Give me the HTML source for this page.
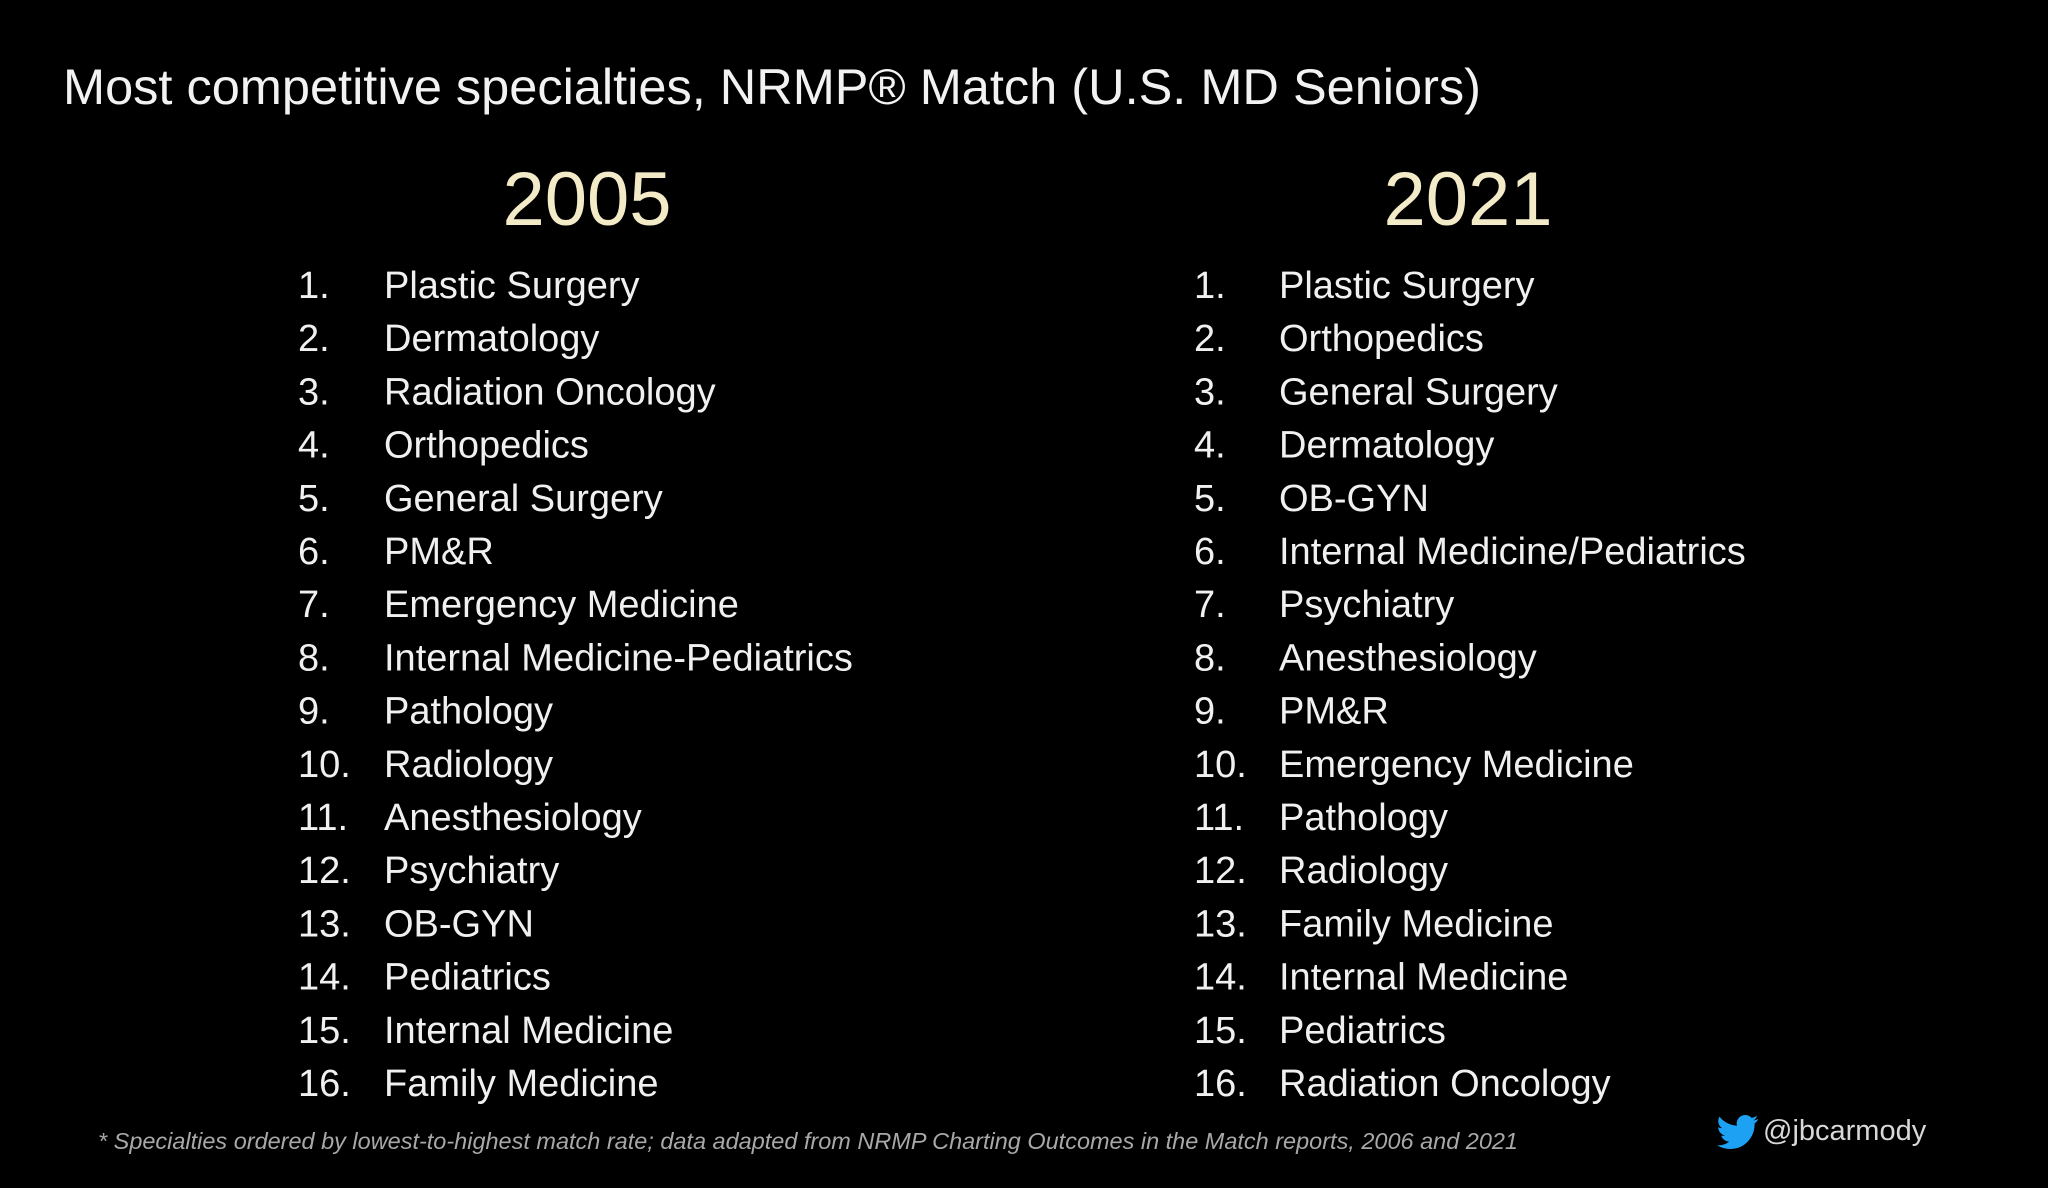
<!DOCTYPE html>
<html><head><meta charset="utf-8"><style>
html,body{margin:0;padding:0;background:#000;}
svg{display:block;font-family:"Liberation Sans",sans-serif;}
</style></head><body>
<svg width="2048" height="1188" viewBox="0 0 2048 1188">
<rect width="2048" height="1188" fill="#000"/>
<text x="63" y="104" font-size="50" fill="#f2f2f2" textLength="1418" lengthAdjust="spacingAndGlyphs">Most competitive specialties, NRMP® Match (U.S. MD Seniors)</text>
<text x="587" y="225" font-size="76" fill="#f3ebc8" text-anchor="middle">2005</text>
<text x="1468" y="225" font-size="76" fill="#f3ebc8" text-anchor="middle">2021</text>
<g id="lists"></g>
<text x="98" y="1149" font-size="23" font-style="italic" fill="#a8a8a8" textLength="1420" lengthAdjust="spacingAndGlyphs">* Specialties ordered by lowest-to-highest match rate; data adapted from NRMP Charting Outcomes in the Match reports, 2006 and 2021</text>
<path fill="#1da1f2" transform="translate(1717,1111) scale(1.75)" d="M23.6 4.6c-.9.4-1.8.6-2.8.8 1-.6 1.8-1.6 2.1-2.7-.9.6-2 1-3.1 1.2a4.9 4.9 0 0 0-8.4 4.5C7.4 8.1 3.8 6.200 1.4 3.2a4.9 4.9 0 0 0 1.5 6.6c-.8 0-1.6-.2-2.2-.6 0 2.4 1.7 4.4 3.9 4.8-.7.2-1.5.2-2.2.1.6 2 2.4 3.4 4.6 3.4A9.9 9.9 0 0 1 0 19.5 14 14 0 0 0 7.5 21.7c9.1 0 14-7.5 14-14v-.6c1-.7 1.8-1.6 2.1-2.5z"/>
<text x="1763" y="1140" font-size="29" fill="#d8d8d8">@jbcarmody</text>
</svg>
<script>
const list2005 = ["Plastic Surgery","Dermatology","Radiation Oncology","Orthopedics","General Surgery","PM&R","Emergency Medicine","Internal Medicine-Pediatrics","Pathology","Radiology","Anesthesiology","Psychiatry","OB-GYN","Pediatrics","Internal Medicine","Family Medicine"];
const list2021 = ["Plastic Surgery","Orthopedics","General Surgery","Dermatology","OB-GYN","Internal Medicine/Pediatrics","Psychiatry","Anesthesiology","PM&R","Emergency Medicine","Pathology","Radiology","Family Medicine","Internal Medicine","Pediatrics","Radiation Oncology"];
const NS="http://www.w3.org/2000/svg";
const g=document.getElementById('lists');
function draw(items,numX,nameX){
  items.forEach((s,i)=>{
    const y=298+i*53.2;
    const n=document.createElementNS(NS,'text');
    n.setAttribute('x',numX);n.setAttribute('y',y);n.setAttribute('font-size','38');n.setAttribute('fill','#f0f0f0');
    
    
    n.textContent=(i+1)+'.';g.appendChild(n);
    const t=document.createElementNS(NS,'text');
    t.setAttribute('x',nameX);t.setAttribute('y',y);t.setAttribute('font-size','38');t.setAttribute('fill','#f0f0f0');
    
    
    t.textContent=s;g.appendChild(t);
  });
}
draw(list2005,298,384);
draw(list2021,1194,1279);
</script>
</body></html>
